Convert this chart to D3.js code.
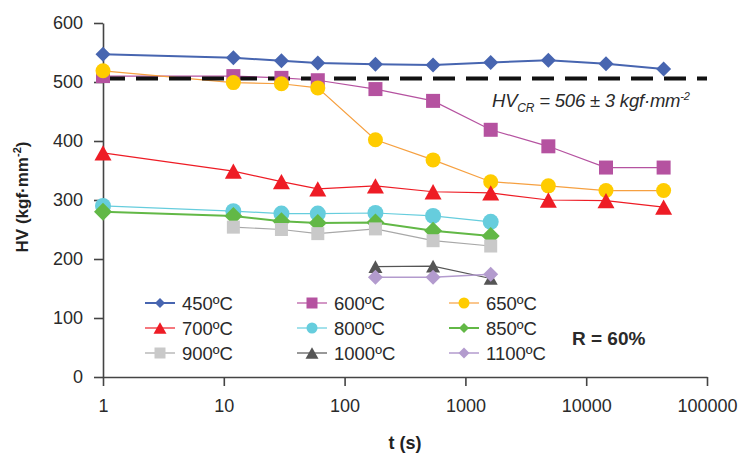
<!DOCTYPE html>
<html><head><meta charset="utf-8">
<script src="https://cdn.jsdelivr.net/npm/d3@7"></script>
<style>body{margin:0;background:#fff}svg{display:block}</style>
</head><body><svg id="c" width="741" height="455"></svg>
<script>
// ---- data ----
const times = [1, 12, 30, 60, 180, 540, 1620, 4860, 14580, 43740];
const hv450 = [547, 541, 536, 532, 530, 529, 533, 537, 531, 522];
const hv600 = [510, 510, 507, 503, 488, 468, 419, 391, 355, 355];
const hv650 = [519, 499, 497, 490, 402, 368, 331, 324, 316, 316];
const hv700 = [380, 349, 331, 319, 324, 314, 312, 300, 299, 288];
const hv800 = [290, 281, 277, 277, 278, 273, 263];
const hv850 = [280, 273, 264, 261, 262, 248, 239];
const hv900 = [null, 254, 250, 243, 251, 231, 222];
const hv1000 = [null, null, null, null, 187, 188, 167];
const hv1100 = [null, null, null, null, 169, 169, 174];
const seriesNames = ["450ºC", "600ºC", "650ºC", "700ºC", "800ºC", "850ºC", "900ºC", "1000ºC", "1100ºC"];
const hvCritical = 506;
const yTicks = [0, 100, 200, 300, 400, 500, 600];
const xTicks = [1, 10, 100, 1000, 10000, 100000];

// ---- styles ----
const styles = [
  {line: "#4765b0", fill: "#4765b0", shape: "diamond", s: 7.5, w: 2, ls: 5},
  {line: "#b552a0", fill: "#b552a0", shape: "square", s: 7, w: 1.2, ls: 5.5},
  {line: "#f6a040", fill: "#ffcc00", shape: "circle", s: 7.5, w: 1.2, ls: 5.5},
  {line: "#ee1c25", fill: "#ee1c25", shape: "triangle", s: 8.5, w: 1.2, ls: 6.5},
  {line: "#66cddd", fill: "#66cddd", shape: "circle", s: 8, w: 1.2, ls: 5.5},
  {line: "#62b846", fill: "#62b846", shape: "diamond", s: 9, w: 2, ls: 5},
  {line: "#a8a8a8", fill: "#c9c9c9", shape: "square", s: 6.5, w: 1.2, ls: 5.5},
  {line: "#555555", fill: "#555555", shape: "triangle", s: 7, w: 1.2, ls: 6.5},
  {line: "#b39bce", fill: "#b39bce", shape: "diamond", s: 7.5, w: 1.5, ls: 5.5}
];
const allData = [hv450, hv600, hv650, hv700, hv800, hv850, hv900, hv1000, hv1100];

function markerPath(shape, s) {
  if (shape === "diamond") return `M0,${-s}L${s},0L0,${s}L${-s},0Z`;
  if (shape === "square") return `M${-s},${-s}H${s}V${s}H${-s}Z`;
  if (shape === "triangle") { const h = s * 0.9; return `M0,${-h}L${s},${h}L${-s},${h}Z`; }
  return `M${s},0A${s},${s} 0 1,1 ${-s},0A${s},${s} 0 1,1 ${s},0Z`;
}

const svg = d3.select("#c");
const font = "'Liberation Sans', Arial, Helvetica, sans-serif";
const x = d3.scaleLog().domain([1, 100000]).range([103, 707]);
const y = d3.scaleLinear().domain([0, 600]).range([377, 23]);

// axes
const yAxis = svg.append("g").attr("transform", "translate(103,0)")
  .call(d3.axisLeft(y).tickValues(yTicks).tickSize(9).tickSizeOuter(0).tickPadding(11).tickFormat(d3.format("d")));
const xAxis = svg.append("g").attr("transform", "translate(0,377)")
  .call(d3.axisBottom(x).tickValues(xTicks).tickSize(9).tickSizeOuter(0).tickPadding(13).tickFormat(d3.format("d")));
[yAxis, xAxis].forEach(g => {
  g.select(".domain").attr("stroke", "#444").attr("stroke-width", 1.6);
  g.selectAll(".tick line").attr("stroke", "#444").attr("stroke-width", 1.6);
  g.selectAll(".tick text").attr("fill", "#2a2a2a").style("font-family", font).style("font-size", "18px");
});

// axis titles
svg.append("text").attr("x", 405).attr("y", 449).attr("text-anchor", "middle")
  .style("font-family", font).style("font-size", "18px").style("font-weight", "bold").attr("fill", "#222")
  .text("t (s)");
const yt = svg.append("text").attr("transform", "translate(28,197) rotate(-90)").attr("text-anchor", "middle")
  .style("font-family", font).style("font-size", "17px").style("font-weight", "bold").attr("fill", "#222");
yt.append("tspan").text("HV (kgf·mm");
yt.append("tspan").attr("dy", -7).style("font-size", "11px").text("-2");
yt.append("tspan").attr("dy", 7).text(")");

// lines
const lineGen = d3.line().defined(d => d[1] != null).x(d => x(d[0])).y(d => y(d[1]));
allData.forEach((vals, i) => {
  const pts = vals.map((v, j) => [times[j], v]);
  svg.append("path").datum(pts).attr("d", lineGen).attr("fill", "none")
    .attr("stroke", styles[i].line).attr("stroke-width", styles[i].w);
});

// critical line
svg.append("line").attr("x1", x(1)).attr("x2", x(100000)).attr("y1", y(hvCritical)).attr("y2", y(hvCritical))
  .attr("stroke", "#111").attr("stroke-width", 4).attr("stroke-dasharray", "22,11");

// markers
allData.forEach((vals, i) => {
  const pts = vals.map((v, j) => [times[j], v]).filter(d => d[1] != null);
  svg.append("g").selectAll("path").data(pts).join("path")
    .attr("transform", d => `translate(${x(d[0])},${y(d[1])})`)
    .attr("d", markerPath(styles[i].shape, styles[i].s))
    .attr("fill", styles[i].fill);
});

// annotation
const ann = svg.append("text").attr("x", 492).attr("y", 107)
  .style("font-family", font).style("font-size", "18.5px").style("font-style", "italic").attr("fill", "#2a2a2a")
  .attr("letter-spacing", "-0.2");
ann.append("tspan").text("HV");
ann.append("tspan").attr("dy", 5).style("font-size", "12px").text("CR");
ann.append("tspan").attr("dy", -5).text(" = 506 ± 3 kgf·mm");
ann.append("tspan").attr("dy", -7).style("font-size", "11px").text("-2");

// R label
svg.append("text").attr("x", 572).attr("y", 345)
  .style("font-family", font).style("font-size", "19px").style("font-weight", "bold").attr("fill", "#2a2a2a")
  .text("R = 60%");

// legend
const legX = [145, 297, 449];
const legY = [303, 328, 353];
seriesNames.forEach((name, i) => {
  const cx = legX[i % 3], cy = legY[Math.floor(i / 3)];
  const g = svg.append("g").attr("transform", `translate(${cx},${cy})`);
  g.append("line").attr("x1", 0).attr("x2", 30).attr("stroke", styles[i].line).attr("stroke-width", styles[i].w);
  g.append("path").attr("transform", "translate(15,0)").attr("d", markerPath(styles[i].shape, styles[i].ls)).attr("fill", styles[i].fill);
  g.append("text").attr("x", 37).attr("y", 6.5).style("font-family", font).style("font-size", "18.5px").attr("fill", "#2a2a2a").text(name);
});
</script></body></html>
